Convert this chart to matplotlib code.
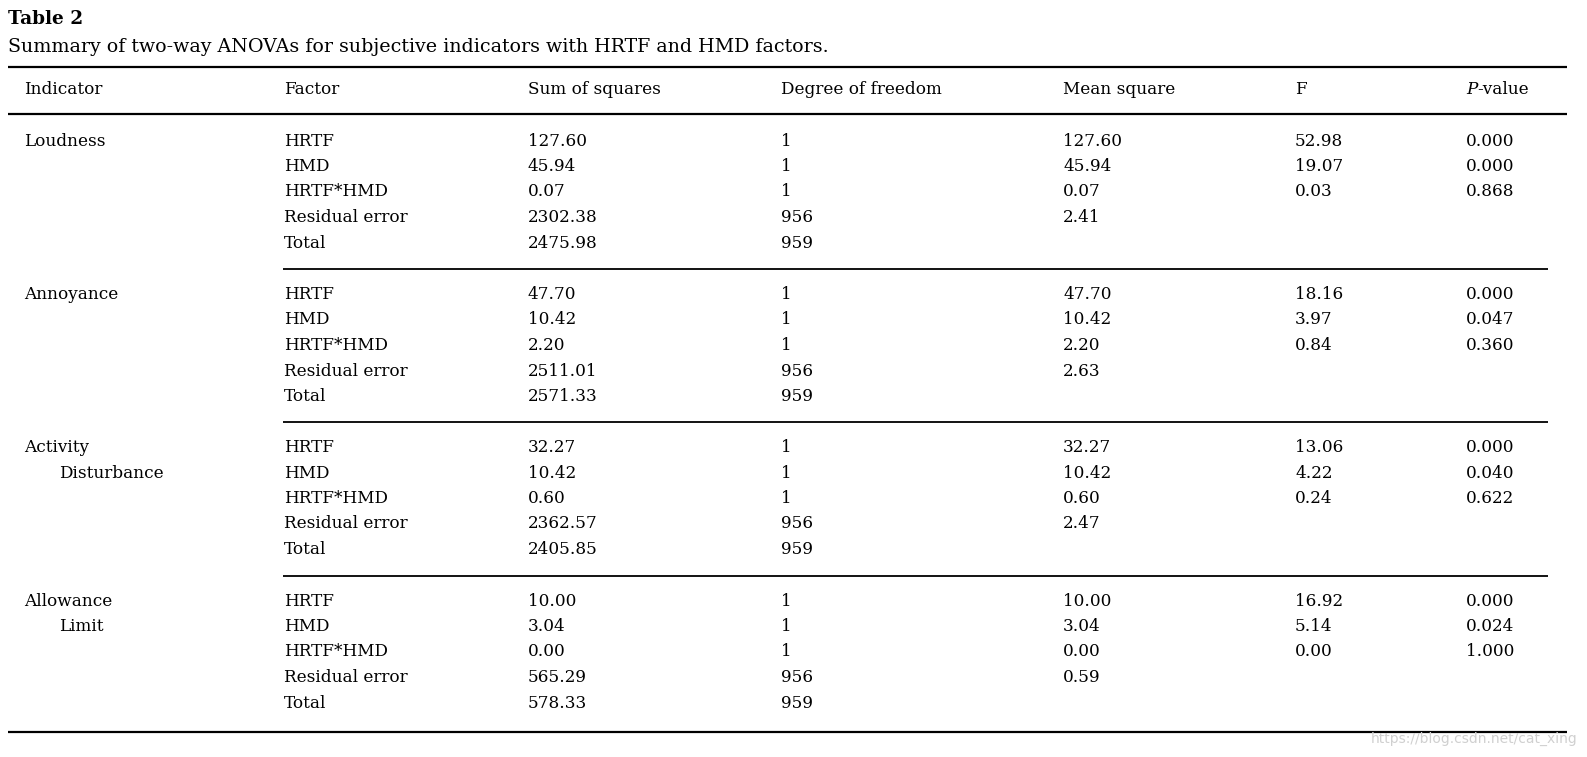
import matplotlib
matplotlib.use("Agg")
import matplotlib.pyplot as plt

title = "Table 2"
caption = "Summary of two-way ANOVAs for subjective indicators with HRTF and HMD factors."
headers = ["Indicator", "Factor", "Sum of squares", "Degree of freedom", "Mean square", "F", "P-value"]

indicators = [["Loudness"], ["Annoyance"], ["Activity", "Disturbance"], ["Allowance", "Limit"]]
factors = ["HRTF", "HMD", "HRTF*HMD", "Residual error", "Total"]
sum_sq = [["127.60", "45.94", "0.07", "2302.38", "2475.98"],
          ["47.70", "10.42", "2.20", "2511.01", "2571.33"],
          ["32.27", "10.42", "0.60", "2362.57", "2405.85"],
          ["10.00", "3.04", "0.00", "565.29", "578.33"]]
dof = ["1", "1", "1", "956", "959"]
mean_sq = [["127.60", "45.94", "0.07", "2.41"],
           ["47.70", "10.42", "2.20", "2.63"],
           ["32.27", "10.42", "0.60", "2.47"],
           ["10.00", "3.04", "0.00", "0.59"]]
f_vals = [["52.98", "19.07", "0.03"],
          ["18.16", "3.97", "0.84"],
          ["13.06", "4.22", "0.24"],
          ["16.92", "5.14", "0.00"]]
p_vals = [["0.000", "0.000", "0.868"],
          ["0.000", "0.047", "0.360"],
          ["0.000", "0.040", "0.622"],
          ["0.000", "0.024", "1.000"]]
watermark = "https://blog.csdn.net/cat_xing"

W, H = 1587, 757
fig = plt.figure(figsize=(W / 100, H / 100), dpi=100)
ax = fig.add_axes([0, 0, 1, 1])
ax.set_xlim(0, W)
ax.set_ylim(H, 0)
ax.axis("off")

FONT = "DejaVu Serif"
FS = 12.2

col_x = [24, 284, 528, 781, 1063, 1295, 1466]

ax.text(8, 18.5, title, fontsize=13.3, fontweight="bold", family=FONT, va="center", ha="left")
ax.text(8, 47, caption, fontsize=13.7, family=FONT, va="center", ha="left")

ax.hlines(67, 8, 1567, color="black", lw=1.6)
for i, h in enumerate(headers):
    if h == "P-value":
        ax.text(col_x[i], 90, r"$\mathit{P}$", fontsize=FS, family=FONT, va="center", ha="left",
                math_fontfamily="dejavuserif")
        ax.text(col_x[i] + 11, 90, "-value", fontsize=FS, family=FONT, va="center", ha="left")
    else:
        ax.text(col_x[i], 90, h, fontsize=FS, family=FONT, va="center", ha="left")
ax.hlines(114, 8, 1567, color="black", lw=1.6)

block_start = [141, 294.5, 447.5, 601]
row_dy = 25.5
seps = [269, 422, 576]

for b in range(4):
    y0 = block_start[b]
    for k, name in enumerate(indicators[b]):
        ax.text(24 if k == 0 else 59, y0 + k * row_dy, name, fontsize=FS, family=FONT, va="center", ha="left")
    for r in range(5):
        y = y0 + r * row_dy
        ax.text(col_x[1], y, factors[r], fontsize=FS, family=FONT, va="center", ha="left")
        ax.text(col_x[2], y, sum_sq[b][r], fontsize=FS, family=FONT, va="center", ha="left")
        ax.text(col_x[3], y, dof[r], fontsize=FS, family=FONT, va="center", ha="left")
        if r < 4:
            ax.text(col_x[4], y, mean_sq[b][r], fontsize=FS, family=FONT, va="center", ha="left")
        if r < 3:
            ax.text(col_x[5], y, f_vals[b][r], fontsize=FS, family=FONT, va="center", ha="left")
            ax.text(col_x[6], y, p_vals[b][r], fontsize=FS, family=FONT, va="center", ha="left")

for s in seps:
    ax.hlines(s, 283, 1548, color="black", lw=1.3)
ax.hlines(732, 8, 1567, color="black", lw=1.6)

ax.text(1578, 739, watermark, fontsize=10, family="DejaVu Sans", color="#d0d0d0",
        va="center", ha="right")

fig.savefig("out.png", dpi=100, facecolor="white")
